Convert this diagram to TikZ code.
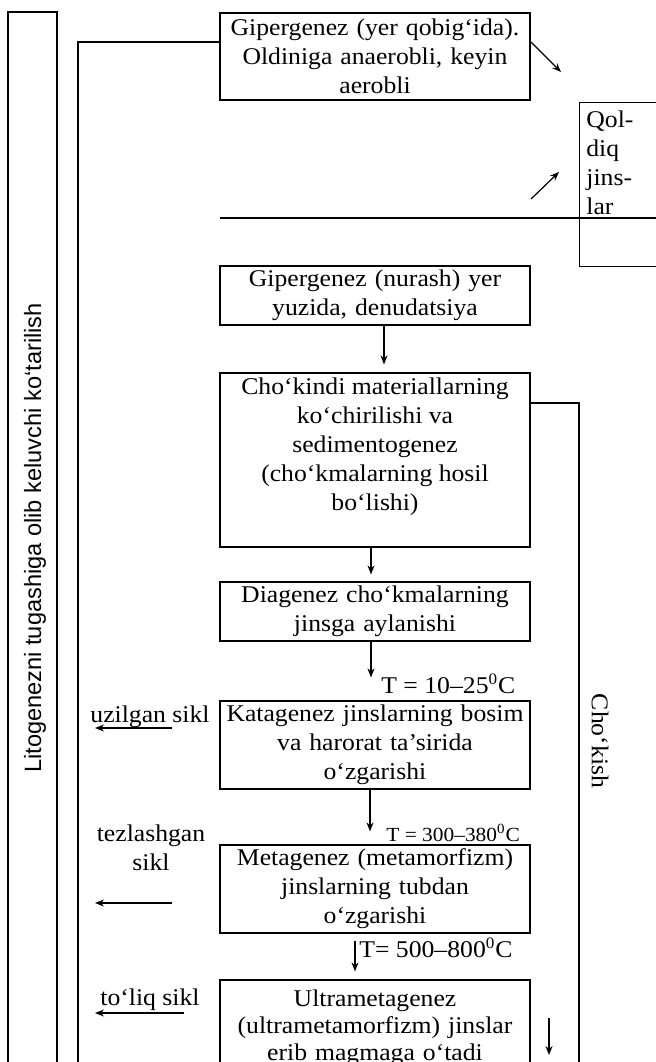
\documentclass[tikz,border=0pt]{standalone}
\usepackage{fontspec}
\setmainfont{Liberation Serif}[FakeStretch=1.07]
\setsansfont{Liberation Sans}
\usetikzlibrary{arrows.meta,positioning}
\tikzset{
  stagebox/.style={
    rectangle, draw, line width=0.6pt,
    minimum width=155pt, minimum height=#1,
    text width=150pt, align=center, inner sep=1pt,
    font=\fontsize{12}{14.5}\selectfont
  },
  stagebox/.default=29.5pt,
  flowarrow/.style={
    -{Stealth[length=4.5pt,width=3.5pt]}, line width=0.6pt
  },
  frameline/.style={line width=0.6pt},
  sidetext/.style={
    font=\fontsize{12}{14.5}\selectfont, align=center, inner sep=0pt
  },
  templabel/.style={
    font=\fontsize{12}{14.5}\selectfont, anchor=west, inner sep=0pt
  },
}

\begin{document}
\begin{tikzpicture}[x=0.5pt,y=-0.5pt]
  \useasboundingbox (0,0) rectangle (656,1062);
  \clip (0,0) rectangle (656,1062);

  % Nodes
  \node[stagebox=43.5pt] (gipA) at (375,56.5)
    {Gipergenez (yer qobig‘ida).\\Oldiniga anaerobli, keyin\\aerobli};
  \node[draw, frameline, minimum width=60pt, minimum height=82pt,
        anchor=north west] (qoldiq) at (579,102) {};
  \node[sidetext, align=left, anchor=west] (qoldiqtext) at (586,163)
    {Qol-\\diq\\jins-\\lar};
  \node[stagebox] (gipB) at (375,295.5)
    {Gipergenez (nurash) yer\\yuzida, denudatsiya};
  \node[stagebox=87pt] (sedim) at (375,460) {};
  \node[sidetext] (sedimtext) at ([yshift=6.5pt]sedim.center)
    {Cho‘kindi materiallarning\\ko‘chirilishi va\\sedimentogenez\\(cho‘kmalarning hosil\\bo‘lishi)};
  \node[stagebox] (diag) at (375,611.5)
    {Diagenez cho‘kmalarning\\jinsga aylanishi};
  \node[stagebox=44pt] (kata) at (375,745)
    {Katagenez jinslarning bosim\\va harorat ta’sirida\\o‘zgarishi};
  \node[stagebox=44pt] (meta) at (375,889)
    {Metagenez (metamorfizm)\\jinslarning tubdan\\o‘zgarishi};
  \node[stagebox=48pt, font=\fontsize{12}{13.5}\selectfont] (ultra) at (375,1028)
    {Ultrametagenez\\(ultrametamorfizm) jinslar\\erib magmaga o‘tadi};

  % Frames
  \draw[frameline] (8,1070) |- (57,12) -- (57,1070);
  \draw[frameline] ([yshift=7.25pt]gipA.west) -| (78,1070);
  \draw[frameline] (220,218) -- (660,218);
  \draw[frameline] ([yshift=28.5pt]sedim.east) -| (579,1070);

  % Arrows
  \draw[flowarrow, shorten >=4pt] ([xshift=4.5pt]gipB.south) -- ([xshift=4.5pt]sedim.north);
  \draw[flowarrow, shorten >=3.5pt] ([xshift=-2pt]sedim.south) -- ([xshift=-2pt]diag.north);
  \draw[flowarrow, shorten >=11.5pt] ([xshift=-2pt]diag.south) -- ([xshift=-2pt]kata.north);
  \draw[flowarrow, shorten >=6.5pt] ([xshift=-2.5pt]kata.south) -- ([xshift=-2.5pt]meta.north);
  \draw[flowarrow, shorten <=3.5pt, shorten >=4pt] ([xshift=-10pt]meta.south) -- ([xshift=-10pt]ultra.north);

  \coordinate (crustA) at (531,42);
  \coordinate (crustB) at (561,72);
  \coordinate (surfA) at (531,199);
  \coordinate (surfB) at (559,172);
  \draw[flowarrow] (crustA) -- (crustB);
  \draw[flowarrow] (surfA) -- (surfB);

  \coordinate (meltA) at (549,1018);
  \coordinate (meltB) at (549,1055);
  \draw[flowarrow] (meltA) -- (meltB);

  \coordinate (uzilR) at (172,728);
  \coordinate (uzilL) at (95,728);
  \coordinate (tezR) at (172,903);
  \coordinate (tezL) at (95,903);
  \coordinate (toliqR) at (184,1013);
  \coordinate (toliqL) at (95,1013);
  \draw[flowarrow] (uzilR) -- (uzilL);
  \draw[flowarrow] (tezR) -- (tezL);
  \draw[flowarrow] (toliqR) -- (toliqL);

  % Labels
  \node[templabel] (tempA) at (381,684) {T = 10–25\textsuperscript{0}C};
  \node[templabel, font=\fontsize{10}{12}\selectfont] (tempB) at (386,833) {T = 300–380\textsuperscript{0}C};
  \node[templabel] (tempC) at (359,948) {T= 500–800\textsuperscript{0}C};

  \node[sidetext] (uzil) at (150,717) {uzilgan sikl};
  \node[sidetext] (tez) at (151,848) {tezlashgan\\sikl};
  \node[sidetext] (toliq) at (150,1000) {to‘liq sikl};

  \node[sidetext, rotate=-90] (chokish) at (600,741) {Cho‘kish};
  \node[rotate=90, inner sep=0pt, font=\sffamily\fontsize{11.8}{14}\selectfont] (lift) at (35,538)
    {Litogenezni tugashiga olib keluvchi ko‘tarilish};
\end{tikzpicture}
\end{document}
